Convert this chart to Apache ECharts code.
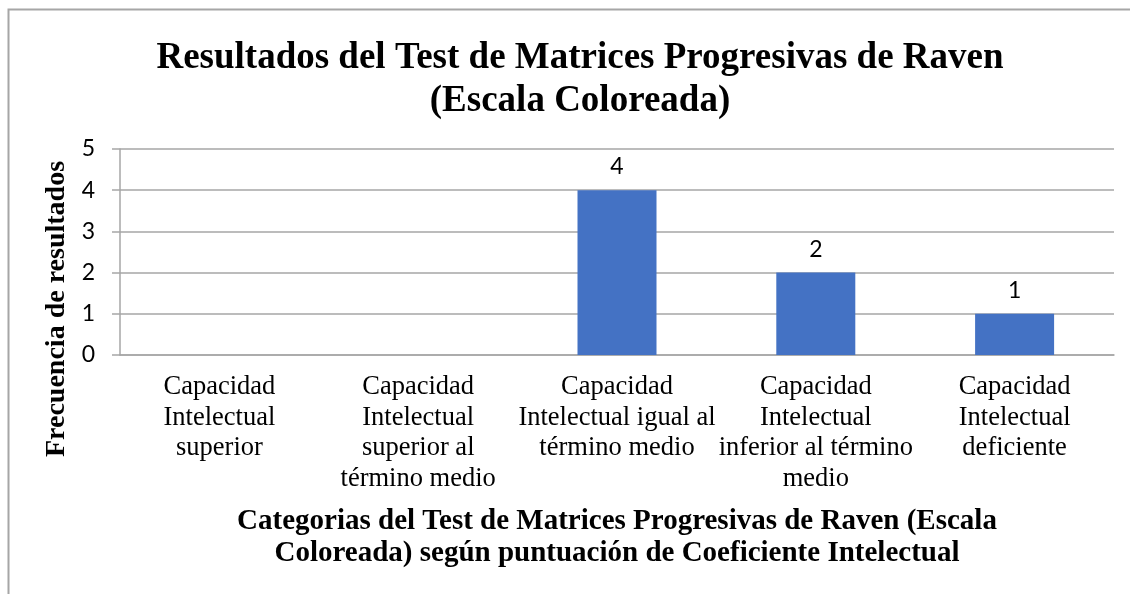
<!DOCTYPE html>
<html>
<head>
<meta charset="utf-8">
<script src="https://cdn.jsdelivr.net/npm/echarts@6/dist/echarts.min.js"></script>
<style>
  html, body { margin: 0; padding: 0; background: #fff; }
  #chart { width: 1130px; height: 594px; }
</style>
</head>
<body>
<div id="chart"></div>
<script>
const categories = [
    "Capacidad\nIntelectual\nsuperior",
    "Capacidad\nIntelectual\nsuperior al\ntérmino medio",
    "Capacidad\nIntelectual igual al\ntérmino medio",
    "Capacidad\nIntelectual\ninferior al término\nmedio",
    "Capacidad\nIntelectual\ndeficiente"
];
const frecuencias = [null, null, 4, 2, 1];
const titleText = "Resultados del Test de Matrices Progresivas de Raven\n(Escala Coloreada)";
const xName = "Categorias del Test de Matrices Progresivas de Raven (Escala\nColoreada) según puntuación de Coeficiente Intelectual";
const yName = "Frecuencia de resultados";

const serif = "'Liberation Serif', 'Times New Roman', serif";
const sans = "Lato, 'Open Sans', sans-serif";
const gray = "#a6a6a6";

const chart = echarts.init(document.getElementById("chart"));
chart.setOption({
    backgroundColor: "#fff",
    animation: false,
    title: {
        text: titleText,
        left: 575,
        textAlign: "center",
        top: 32,
        textStyle: {
            fontFamily: serif,
            fontWeight: "bold",
            fontSize: 37,
            lineHeight: 43,
            color: "#000"
        }
    },
    graphic: [
        {
            type: "rect",
            shape: { x: 8.5, y: 9.5, width: 1200, height: 700 },
            style: { fill: "none", stroke: gray, lineWidth: 2 },
            silent: true
        },
        {
            type: "text",
            x: 57,
            y: 309,
            rotation: Math.PI / 2,
            style: {
                text: yName,
                fontFamily: serif,
                fontWeight: "bold",
                fontSize: 28,
                fill: "#000",
                align: "center",
                verticalAlign: "middle"
            }
        }
    ],
    grid: { left: 120, right: 16, top: 149, bottom: 239 },
    xAxis: {
        type: "category",
        data: categories,
        name: xName,
        nameLocation: "middle",
        nameGap: 151,
        nameTextStyle: {
            fontFamily: serif,
            fontWeight: "bold",
            fontSize: 29,
            lineHeight: 32,
            color: "#000"
        },
        axisLine: { lineStyle: { color: gray, width: 1.5 } },
        axisTick: { show: false },
        axisLabel: {
            interval: 0,
            margin: 17,
            fontFamily: serif,
            fontSize: 26.5,
            lineHeight: 30.5,
            color: "#000"
        }
    },
    yAxis: {
        type: "value",
        min: 0,
        max: 5,
        interval: 1,
        axisLine: { show: true, lineStyle: { color: gray, width: 1.5 } },
        axisTick: { show: true, length: 8, lineStyle: { color: gray, width: 1.5 } },
        splitLine: { lineStyle: { color: gray, width: 1.5 } },
        axisLabel: {
            margin: 25,
            fontFamily: sans,
            fontSize: 23,
            color: "#000"
        }
    },
    series: [{
        type: "bar",
        data: frecuencias,
        barWidth: 79,
        itemStyle: { color: "#4472c4" },
        label: {
            show: true,
            position: "top",
            distance: 12,
            fontFamily: sans,
            fontSize: 23,
            color: "#000"
        }
    }]
});
</script>
</body>
</html>
